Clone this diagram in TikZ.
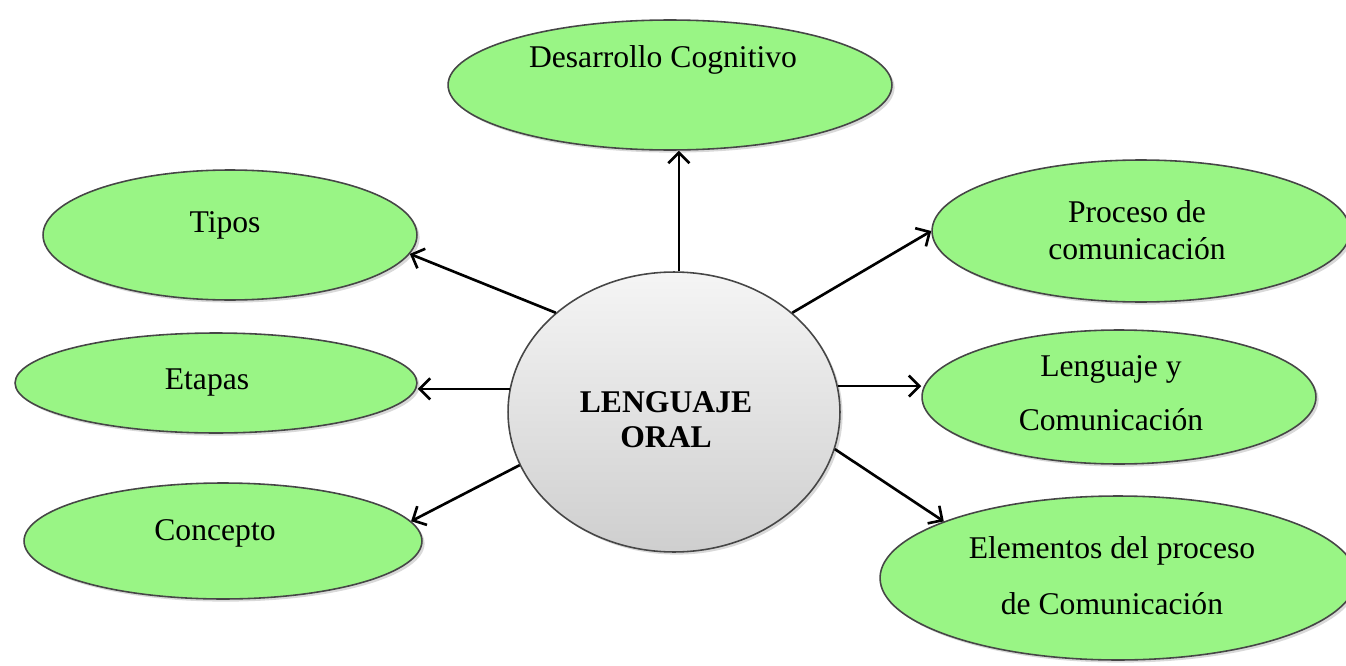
\documentclass[tikz,border=0pt]{standalone}
\usepackage{fontspec}
\setmainfont{Liberation Serif}
\usetikzlibrary{shapes,arrows.meta,shadows}
\definecolor{verde}{RGB}{153,245,133}
\definecolor{borde}{RGB}{70,70,70}

\begin{document}
\begin{tikzpicture}[x=0.02cm,y=-0.02cm]
\tikzstyle{every node}=[font=\fontsize{18}{21}\selectfont]
\tikzstyle{hoja}=[ellipse,draw=borde,line width=0.9pt,fill=verde,inner sep=0pt,drop shadow={shadow xshift=1.5pt,shadow yshift=-1.5pt,opacity=0.3}]
\tikzstyle{flecha}=[line width=1.5pt,-{Straight Barb[length=6pt,width=12pt]}]
\tikzstyle{texto}=[align=center,inner sep=0pt]
\useasboundingbox (0,0) rectangle (1346,666);
\node[hoja,minimum width=8.88cm,minimum height=2.6cm] (cog) at (670,85) {};
\node[hoja,minimum width=7.48cm,minimum height=2.6cm] (tipos) at (230,235) {};
\node[hoja,minimum width=8.04cm,minimum height=2.0cm] (etapas) at (216,383) {};
\node[hoja,minimum width=7.96cm,minimum height=2.32cm] (concepto) at (223,541) {};
\node[hoja,minimum width=8.36cm,minimum height=2.84cm] (proceso) at (1141,231) {};
\node[hoja,minimum width=7.88cm,minimum height=2.68cm] (lenguaje) at (1119,397) {};
\node[hoja,minimum width=9.52cm,minimum height=3.28cm] (elementos) at (1118,578) {};
\node[ellipse,draw=borde,line width=0.9pt,top color=gray!8,bottom color=gray!38,minimum width=6.64cm,minimum height=5.6cm,drop shadow={shadow xshift=1.5pt,shadow yshift=-1.5pt,opacity=0.3}] (centro) at (674,412) {};
\node[texto] (tcog) at (663,60) {Desarrollo Cognitivo};
\node[texto] (ttipos) at (225,225) {Tipos};
\node[texto] (tetapas) at (207,383) {Etapas};
\node[texto] (tconcepto) at (215,533) {Concepto};
\node[texto] (tproceso) at (1137,230) {Proceso de\\[0pt]comunicación};
\node[texto] (tlenguaje) at (1111,393) {Lenguaje y\\[10pt]Comunicación};
\node[texto] (telementos) at (1112,576) {Elementos del proceso\\[11pt]de Comunicación};
\node[texto,font=\fontsize{18}{21}\selectfont\bfseries] (tcentro) at (666,420) {LENGUAJE\\[-1pt]ORAL};
\draw[flecha] (centro.88) -- (centro.88 |- cog.south);
\draw[flecha] (centro.140) -- (tipos.-6);
\draw[flecha] (centro.172) -- (centro.172 -| etapas.east);
\draw[flecha] (centro.199) -- (concepto.6);
\draw[flecha] (centro.40) -- (proceso.west);
\draw[flecha] (centro.9) -- (centro.9 -| lenguaje.west);
\draw[flecha] (centro.-13) -- (elementos.162);
\end{tikzpicture}
\end{document}
